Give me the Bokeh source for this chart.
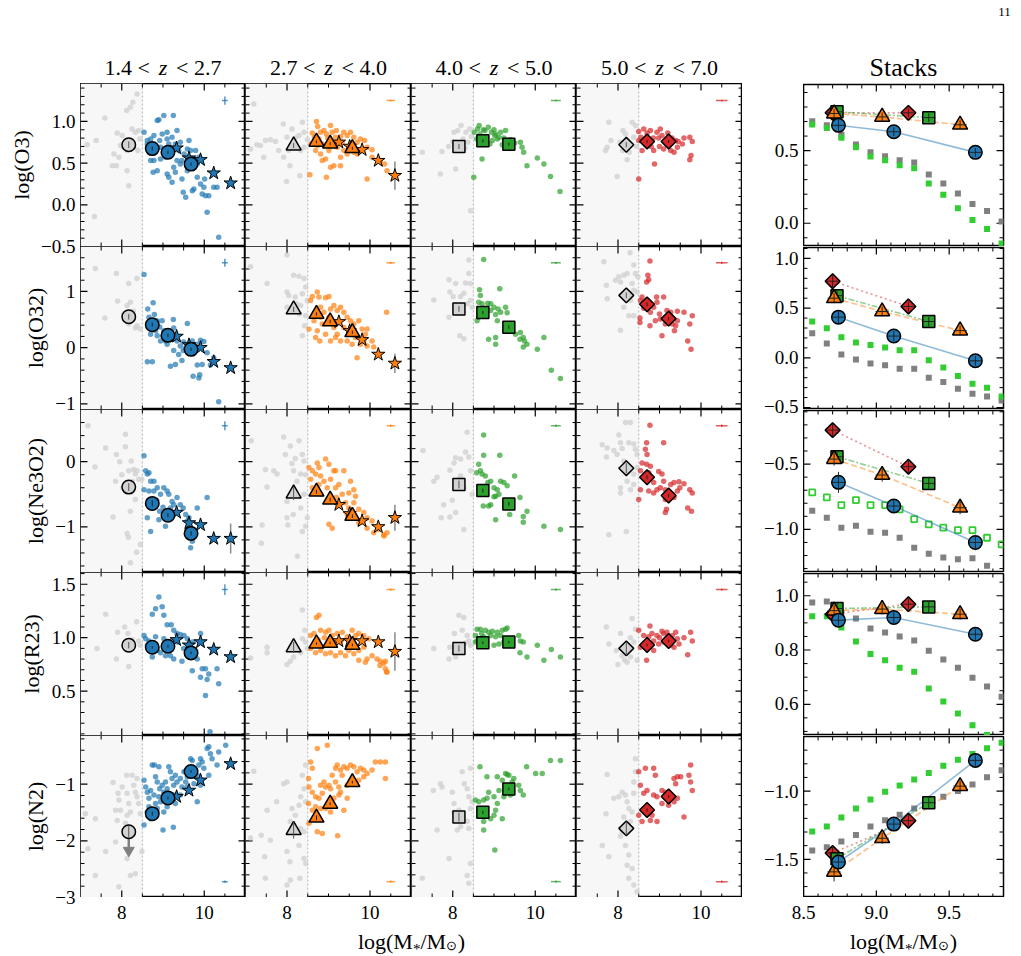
import numpy as np
from bokeh.embed import file_html
from bokeh.layouts import column, row
from bokeh.models import BoxAnnotation, Label, Range1d, Span
from bokeh.plotting import figure
from bokeh.resources import INLINE

SERIF = "Liberation Serif"
NAN = float("nan")

# ---------------------------------------------------------------- data
MASS_CUT = 8.5
BIN_LO = ["1.4", "2.7", "4.0", "5.0"]
BIN_HI = ["2.7", "4.0", "5.0", "7.0"]
RATIOS = ["O3", "O32", "Ne3O2", "R23", "N2"]
COLORS = ["#1f77b4", "#ff7f0e", "#2ca02c", "#d62728"]
LINE_DASH = ["solid", "6 3", "6 2 2 2", "2 3"]

# tick positions
MASS_TICKS = [8, 10]
STACK_MASS_TICKS = [8.5, 9.0, 9.5]
RATIO_TICKS = [[-0.5, 0.0, 0.5, 1.0], [-1, 0, 1], [-1, 0], [0.5, 1.0, 1.5], [-3, -2, -1]]
STACK_RATIO_TICKS = [[0.0, 0.5], [-0.5, 0.0, 0.5, 1.0], [-1.0, -0.5], [0.6, 0.8, 1.0], [-1.5, -1.0]]

# individual galaxies above the mass cut: (log M*, log ratio)
gal_z1_o3 = [(8.54,0.87),(8.62,0.77),(8.66,0.65),(8.70,0.79),(8.78,0.83),(8.86,1.01),(8.90,1.02),(8.92,0.77),(8.94,0.69),(8.98,0.85),(9.02,1.07),(9.06,0.57),(9.10,0.79),(9.14,0.73),(9.18,0.65),(9.22,0.81),(9.25,1.07),(9.26,0.45),(9.30,0.73),(9.34,0.89),(9.38,0.65),(9.42,0.75),(9.46,0.53),(9.49,0.15),(9.51,0.61),(9.55,0.09),(9.59,0.67),(9.63,0.77),(9.67,0.65),(9.71,0.17),(9.75,0.19),(9.79,0.65),(9.83,0.49),(9.87,0.57),(9.91,0.25),(9.95,0.13),(9.99,0.21),(10.03,0.11),(10.07,-0.09),(10.11,0.11),(10.23,0.21),(10.31,0.21),(10.35,-0.39),(8.76,0.39),(8.86,0.41),(9.10,0.37),(9.14,0.33),(9.22,0.27),(8.78,0.53),(8.94,0.55),(9.30,0.39),(9.63,0.47),(9.83,0.33),(9.34,0.53),(8.70,0.53),(8.78,0.69),(9.02,0.65),(9.10,0.87),(9.42,0.49),(9.59,0.41),(9.75,0.45),(10.01,0.31),(9.46,0.31),(8.62,0.73)]
gal_z2_o3 = [(8.71,1.00),(8.61,0.86),(8.66,0.81),(8.81,0.87),(8.89,0.89),(8.77,0.79),(8.85,0.73),(8.95,0.85),(8.98,0.80),(9.09,0.87),(9.19,0.89),(9.29,0.82),(9.37,0.87),(9.45,0.83),(9.53,0.87),(9.61,0.81),(9.69,0.75),(9.77,0.79),(9.87,0.77),(9.93,0.69),(10.05,0.66),(10.25,0.53),(10.35,0.49),(10.41,0.41),(8.69,0.65),(8.85,0.53),(8.93,0.55),(9.05,0.45),(9.13,0.47),(9.29,0.47),(9.37,0.65),(9.45,0.61),(9.61,0.63),(9.76,0.65),(8.55,0.36),(8.95,0.33),(9.93,0.31),(8.73,0.71),(9.01,0.65),(9.21,0.69),(9.33,0.75),(9.49,0.69),(8.81,0.61),(8.58,0.73),(9.29,0.57),(9.69,0.61),(10.05,0.57),(9.17,0.81),(9.05,0.95),(8.74,0.94)]
gal_z3_o3 = [(8.52,0.87),(8.60,0.91),(8.66,0.85),(8.78,0.89),(8.94,0.87),(9.02,0.83),(8.71,0.55),(8.51,0.33),(8.68,0.73),(8.90,0.73),(9.00,0.90),(9.16,0.87),(9.28,0.89),(9.32,0.77),(9.08,0.79),(9.20,0.72),(9.64,0.75),(9.68,0.69),(9.72,0.63),(9.80,0.47),(10.05,0.56),(10.21,0.49),(10.37,0.34),(10.60,0.16),(9.12,0.81),(9.04,0.85),(8.96,0.77),(8.82,0.81),(8.58,0.79),(8.86,0.93),(9.24,0.80),(9.50,0.74),(9.40,0.78),(8.74,0.90),(8.64,0.95)]
gal_z4_o3 = [(8.50,0.88),(8.50,0.31),(8.62,0.91),(8.78,0.89),(8.94,0.87),(9.02,0.91),(9.06,0.83),(8.58,0.65),(8.86,0.65),(8.88,0.49),(9.10,0.67),(9.27,0.65),(9.35,0.63),(9.39,0.77),(9.43,0.69),(9.59,0.80),(9.73,0.81),(9.79,0.76),(9.76,0.59),(9.73,0.54),(8.50,0.77),(8.66,0.73),(9.14,0.75),(8.55,0.81),(8.70,0.86),(8.98,0.80),(9.20,0.86),(8.80,0.70),(9.00,0.70),(9.30,0.80),(8.85,0.80),(9.45,0.76),(9.55,0.73)]

gal_z1_o32 = [(8.54,1.30),(8.76,0.80),(8.63,0.69),(8.66,0.54),(8.79,0.59),(8.86,0.48),(8.92,0.37),(9.02,0.30),(9.06,0.12),(9.14,0.18),(9.25,0.50),(9.26,0.35),(9.34,0.12),(9.42,0.03),(9.49,-0.05),(9.55,0.00),(9.59,0.43),(9.71,0.12),(9.83,0.06),(9.91,0.13),(9.99,0.11),(10.07,-0.09),(9.83,-0.31),(9.95,-0.30),(9.73,-0.51),(9.87,-0.54),(9.89,-0.48),(8.62,-0.25),(8.74,-0.25),(9.18,-0.33),(9.30,-0.30),(9.46,-0.23),(8.86,0.21),(8.94,0.12),(9.10,0.06),(9.38,-0.12),(10.35,-0.96),(9.26,-0.05),(8.82,0.30),(8.70,0.24),(8.98,0.48),(10.23,-0.18),(10.15,-0.31),(9.00,0.20),(9.20,0.25),(9.50,0.10)]
gal_z2_o32 = [(8.57,0.84),(8.61,0.91),(8.73,0.99),(8.77,0.90),(8.93,0.89),(9.01,0.91),(8.53,0.33),(8.65,0.48),(8.81,0.72),(8.89,0.63),(9.05,0.69),(9.13,0.75),(9.21,0.66),(9.29,0.72),(9.37,0.63),(9.45,0.54),(9.53,0.48),(9.61,0.42),(9.73,0.48),(9.81,0.33),(9.93,0.33),(9.89,0.24),(9.65,0.18),(9.77,0.06),(9.93,0.03),(10.05,0.12),(10.09,0.01),(10.40,0.63),(9.69,-0.18),(8.69,0.18),(8.79,0.12),(8.93,0.24),(9.05,0.12),(9.17,0.18),(9.29,0.12),(9.45,0.12),(9.49,0.27),(8.73,0.30),(8.85,0.42),(9.13,0.36),(9.21,0.24),(8.69,0.63),(8.81,0.54),(9.01,0.54),(9.37,0.36),(9.57,0.06),(9.85,0.12)]
gal_z3_o32 = [(8.75,1.57),(8.65,1.03),(9.14,1.05),(8.67,0.93),(8.63,0.81),(8.71,0.78),(8.85,0.79),(8.92,0.78),(9.00,0.72),(9.10,0.69),(9.16,0.63),(9.28,0.72),(9.32,0.62),(9.04,0.59),(9.08,0.48),(8.59,0.48),(8.63,0.54),(8.87,0.15),(9.04,0.18),(9.04,0.06),(9.52,0.24),(9.64,0.27),(9.71,0.18),(9.63,0.15),(9.74,0.12),(9.80,0.06),(9.71,0.01),(10.05,-0.03),(10.21,0.18),(10.39,-0.40),(10.61,-0.55),(8.79,0.57),(8.92,0.66)]
gal_z4_o32 = [(8.77,1.54),(8.72,1.29),(8.69,1.17),(8.74,1.21),(8.54,0.84),(8.58,0.90),(8.93,0.90),(9.10,0.90),(8.94,0.81),(8.86,0.72),(8.78,0.63),(8.53,0.53),(8.53,0.45),(8.77,0.39),(8.90,0.48),(9.02,0.51),(9.06,0.21),(9.18,0.66),(9.27,0.63),(9.43,0.65),(9.59,0.63),(9.79,0.57),(9.73,0.42),(9.68,0.12),(9.76,-0.03),(9.39,0.39),(9.36,0.30),(9.43,0.48),(9.31,0.42),(9.14,0.42),(8.62,0.70),(9.00,0.60)]

gal_z1_ne3o2 = [(8.54,0.09),(8.58,-0.14),(8.62,-0.19),(8.66,-0.17),(8.70,-0.30),(8.78,-0.30),(8.86,-0.40),(8.54,-0.43),(8.66,-0.45),(8.78,-0.45),(8.94,-0.50),(9.02,-0.40),(9.10,-0.45),(9.14,-0.50),(9.22,-0.61),(9.26,-0.66),(9.34,-0.55),(9.42,-0.66),(9.49,-0.71),(9.55,-0.81),(9.63,-0.86),(9.83,-0.71),(10.07,-0.55),(8.70,-0.61),(8.62,-0.86),(8.70,-1.07),(8.90,-0.89),(9.06,-0.99),(9.18,-0.71),(9.30,-0.78),(9.67,-1.32),(9.59,-1.02),(9.71,-1.22),(8.92,-0.76),(9.59,-0.91),(8.85,-0.60),(9.00,-0.70)]
gal_z2_ne3o2 = [(8.53,-0.09),(8.61,-0.14),(8.73,-0.02),(8.77,-0.09),(8.93,0.04),(9.01,-0.04),(9.13,-0.14),(9.17,-0.14),(8.57,-0.27),(8.69,-0.19),(8.81,-0.22),(8.89,-0.30),(9.05,-0.27),(9.25,-0.35),(8.61,-0.40),(8.77,-0.35),(8.97,-0.40),(9.17,-0.40),(9.33,-0.50),(9.49,-0.48),(9.61,-0.43),(9.41,-0.63),(9.49,-0.71),(9.61,-0.63),(9.73,-0.73),(9.85,-0.78),(9.93,-0.86),(9.45,-0.81),(9.61,-0.86),(9.73,-0.94),(9.93,-1.02),(10.09,-1.09),(10.21,-1.04),(10.33,-1.12),(10.34,-1.14),(10.41,-1.09),(9.01,-0.96),(9.09,-1.02),(9.53,-0.30),(9.65,-0.53),(10.05,-0.91),(9.19,-0.55),(8.81,-0.50),(9.37,-0.14)]
gal_z3_ne3o2 = [(8.75,0.41),(8.75,0.10),(9.14,0.10),(8.63,-0.04),(8.67,-0.14),(8.58,-0.17),(8.71,-0.19),(8.79,-0.22),(8.85,-0.32),(8.92,-0.30),(9.00,-0.40),(9.08,-0.43),(9.16,-0.30),(9.24,-0.32),(9.32,-0.37),(9.50,-0.22),(9.04,-0.53),(9.00,-0.54),(8.74,-0.68),(8.87,-0.68),(8.92,-0.66),(9.04,-0.89),(9.38,-0.81),(9.63,-0.55),(9.71,-0.84),(9.80,-0.76),(9.71,-0.93),(10.21,-0.99),(10.61,-1.04),(9.12,-0.50),(8.80,-0.40)]
gal_z4_ne3o2 = [(8.77,0.56),(8.69,0.29),(9.10,0.29),(8.66,0.19),(8.70,0.11),(8.58,-0.02),(8.69,-0.04),(8.78,-0.07),(8.54,-0.14),(8.66,-0.19),(8.74,-0.17),(8.98,-0.15),(9.06,-0.19),(9.10,-0.30),(8.86,-0.32),(8.94,-0.43),(8.54,-0.43),(8.74,-0.45),(8.86,-0.48),(9.02,-0.40),(9.14,-0.43),(9.27,-0.35),(9.35,-0.32),(9.47,-0.31),(9.59,-0.34),(9.43,-0.45),(9.31,-0.50),(9.14,-0.58),(9.14,-0.78),(9.17,-0.73),(9.68,-0.71),(9.77,-0.76),(9.73,-0.43),(9.79,-0.48),(8.50,-0.58),(9.35,-0.55),(9.49,-0.40)]

gal_z1_r23 = [(8.54,1.02),(8.58,0.99),(8.66,0.97),(8.74,1.22),(8.90,1.38),(8.82,1.27),(8.98,1.29),(9.02,1.21),(9.10,1.12),(9.20,1.12),(9.26,1.07),(9.34,1.04),(9.42,1.03),(9.51,1.02),(9.59,0.99),(9.71,0.96),(9.91,1.04),(8.74,0.82),(8.86,0.88),(8.94,0.86),(9.06,0.83),(9.18,0.83),(9.26,0.80),(9.46,0.78),(9.71,0.69),(9.91,0.63),(9.95,0.71),(10.03,0.71),(10.07,0.61),(10.11,0.66),(10.31,0.71),(10.35,0.57),(10.03,0.46),(10.14,0.12),(9.75,0.86),(9.83,0.80),(8.62,0.93),(8.82,1.01),(9.02,0.99),(9.34,0.96),(9.50,0.90),(9.20,0.95)]
gal_z2_r23 = [(8.71,1.19),(8.77,1.21),(8.57,1.02),(8.65,1.04),(8.81,1.07),(8.93,1.05),(9.01,1.07),(9.09,1.02),(9.21,1.04),(9.33,1.05),(9.45,1.01),(9.57,1.07),(9.65,1.02),(9.73,1.04),(9.85,1.02),(9.97,0.99),(8.57,0.90),(8.69,0.86),(8.81,0.88),(8.93,0.85),(9.05,0.86),(9.17,0.83),(9.29,0.86),(9.41,0.83),(9.49,0.88),(9.61,0.85),(9.73,0.88),(9.85,0.91),(9.93,0.80),(10.05,0.83),(10.17,0.80),(10.25,0.78),(10.33,0.76),(10.37,0.71),(10.41,0.68),(10.24,0.74),(9.89,0.77),(9.73,0.79),(10.40,0.68),(10.37,0.78),(8.75,0.98),(9.00,0.95),(9.30,0.97),(8.90,1.00)]
gal_z3_r23 = [(8.59,1.08),(8.67,1.08),(8.79,1.07),(8.87,1.05),(8.96,1.06),(9.08,1.05),(9.20,1.07),(9.28,1.08),(9.32,1.09),(8.55,1.02),(8.59,0.97),(8.75,1.01),(8.92,1.02),(9.04,1.01),(9.16,1.02),(9.12,0.94),(9.24,0.96),(8.55,0.96),(9.60,1.02),(9.64,0.97),(9.71,0.96),(9.63,0.86),(9.80,0.82),(10.05,0.93),(10.21,0.79),(10.39,0.89),(10.61,0.82),(9.00,0.93),(8.70,1.04)]
gal_z4_r23 = [(8.77,1.11),(8.50,1.07),(8.62,1.02),(8.74,1.01),(8.82,1.04),(8.94,1.02),(9.06,1.06),(9.10,1.04),(9.18,1.05),(9.31,1.02),(9.39,1.05),(9.43,0.99),(9.59,1.00),(9.75,1.05),(9.79,0.97),(9.68,0.84),(8.69,0.79),(8.86,0.88),(8.54,0.91),(8.98,0.94),(9.10,0.96),(9.27,0.93),(9.35,0.91),(9.47,0.94),(8.86,0.97),(9.00,1.00),(9.20,1.00)]

gal_z1_n2 = [(8.54,-0.93),(8.58,-1.05),(8.62,-1.14),(8.66,-1.25),(8.70,-1.11),(8.74,-0.66),(8.79,-0.66),(8.90,-0.69),(8.82,-0.87),(8.86,-0.96),(8.92,-1.08),(8.98,-1.02),(9.02,-1.14),(9.06,-0.96),(9.10,-1.08),(9.14,-0.69),(9.18,-0.78),(9.22,-0.90),(9.26,-1.02),(9.30,-0.84),(9.34,-0.96),(9.42,-0.90),(9.46,-1.05),(9.51,-0.78),(9.55,-0.96),(9.59,-0.87),(9.67,-0.55),(9.71,-0.58),(9.83,-0.84),(9.87,-0.66),(9.91,-0.55),(9.95,-0.61),(9.99,-0.72),(10.07,-0.37),(10.11,-0.34),(10.15,-0.46),(10.19,-0.55),(10.31,-0.66),(10.35,-0.43),(10.52,-0.31),(8.62,-1.49),(8.70,-1.61),(8.78,-1.58),(8.86,-1.43),(8.94,-1.31),(9.02,-1.49),(9.00,-1.81),(9.25,-1.76),(9.83,-1.31),(8.54,-1.72),(8.66,-1.40),(8.82,-1.34),(9.10,-1.40),(9.30,-1.34),(9.42,-1.19),(8.78,-1.19),(8.90,-1.22),(9.26,-1.19),(9.59,-1.05),(9.75,-0.99),(9.91,-1.02),(10.11,-0.84)]
gal_z2_n2 = [(8.73,-0.37),(8.97,-0.31),(8.57,-0.61),(8.61,-0.72),(8.52,-0.90),(8.53,-1.05),(8.61,-1.14),(8.69,-1.22),(8.77,-1.25),(8.85,-1.16),(8.89,-0.96),(8.93,-1.05),(9.01,-1.02),(9.05,-1.08),(9.09,-0.84),(9.17,-0.72),(9.21,-0.66),(9.29,-0.75),(9.33,-0.84),(9.37,-0.69),(9.45,-0.72),(9.53,-0.66),(9.61,-0.69),(9.69,-0.78),(9.77,-0.72),(9.85,-0.75),(9.93,-0.81),(10.05,-0.75),(10.13,-0.61),(10.25,-0.61),(10.37,-0.61),(10.37,-0.90),(8.52,-1.34),(8.61,-1.46),(8.69,-1.40),(8.81,-1.43),(8.93,-1.43),(9.05,-1.49),(9.13,-1.25),(9.25,-1.19),(9.29,-1.14),(9.37,-1.46),(9.45,-1.25),(8.73,-1.84),(8.85,-1.87),(9.22,-1.91),(8.53,-1.69),(9.17,-0.96),(9.25,-1.05),(9.61,-0.99),(9.73,-0.93),(9.85,-0.87),(9.45,-1.02),(8.81,-1.02)]
gal_z3_n2 = [(8.66,-0.69),(8.83,-0.87),(9.08,-0.87),(9.20,-0.93),(9.28,-0.81),(9.32,-0.83),(9.36,-0.84),(9.44,-0.96),(9.48,-0.90),(9.40,-1.05),(9.60,-1.02),(9.64,-1.11),(9.71,-1.19),(9.79,-0.69),(10.01,-0.81),(10.17,-0.81),(10.37,-0.58),(10.61,-0.58),(8.55,-1.28),(8.63,-1.31),(8.75,-1.28),(8.87,-1.14),(9.00,-1.22),(9.08,-1.34),(8.67,-1.43),(9.04,-1.46),(8.75,-1.66),(8.92,-1.61),(9.20,-1.61),(8.75,-1.81),(9.02,-2.16),(9.00,-1.55),(9.24,-1.22),(9.40,-1.19),(8.83,-1.25),(9.12,-1.11)]
gal_z4_n2 = [(8.50,-0.78),(8.66,-0.72),(8.86,-0.72),(8.90,-0.84),(8.54,-1.02),(8.62,-1.16),(8.70,-1.11),(8.86,-1.19),(8.94,-1.22),(9.06,-1.11),(9.14,-1.14),(9.35,-0.90),(9.39,-0.99),(9.43,-0.87),(9.51,-0.87),(9.71,-0.84),(9.75,-0.96),(9.79,-1.11),(9.75,-0.66),(9.22,-1.37),(9.35,-1.31),(9.59,-1.58),(8.50,-1.55),(8.58,-1.66),(8.78,-1.64),(8.94,-1.66),(8.66,-1.43),(8.82,-1.55),(9.06,-1.34),(9.43,-1.25)]

# individual galaxies below the mass cut
low_z1_o3 = [(7.16,0.72),(7.38,0.77),(7.59,1.04),(7.89,0.86),(7.77,0.47),(7.87,0.47),(7.97,0.71),(8.12,1.13),(8.13,0.65),(8.21,1.17),(8.25,0.91),(8.27,1.23),(8.33,0.87),(8.37,1.33),(8.41,0.89),(8.44,0.79),(8.13,0.41),(8.17,0.23),(8.05,0.69),(8.01,0.83),(8.29,0.69),(8.39,0.65),(7.34,-0.14),(7.81,0.61),(7.93,0.57)]
low_z2_o3 = [(7.20,1.21),(7.12,0.67),(7.27,0.72),(7.36,0.71),(7.48,0.77),(7.60,0.78),(7.72,0.76),(7.80,0.65),(7.91,0.97),(8.00,0.81),(8.04,0.65),(8.07,0.47),(7.92,0.57),(8.12,0.91),(8.20,0.80),(8.29,0.83),(8.31,0.35),(8.37,0.99),(8.41,0.87),(8.41,0.69),(8.49,0.78),(7.99,0.28),(7.44,0.57),(8.33,0.65),(8.24,0.69)]
low_z3_o3 = [(7.26,0.63),(7.74,0.64),(8.03,0.87),(8.07,0.43),(7.70,0.37),(8.12,0.89),(8.20,0.95),(8.32,0.87),(8.43,-0.07),(8.25,0.79),(8.37,0.75),(8.41,0.91),(7.90,0.70),(8.30,0.68),(8.45,0.82),(8.00,0.76)]
low_z4_o3 = [(7.78,0.99),(7.74,0.69),(7.70,0.65),(7.83,0.77),(7.98,0.34),(8.12,0.89),(8.18,0.85),(8.22,0.54),(8.34,0.99),(8.38,0.81),(8.42,0.95),(8.30,0.71),(8.11,0.65),(8.27,0.63),(8.05,0.75),(8.45,0.70)]

low_z1_o32 = [(7.36,1.41),(7.87,1.32),(8.17,1.14),(8.37,1.23),(7.90,0.83),(8.13,0.75),(8.21,0.81),(7.59,0.53),(8.33,0.35),(8.45,0.33),(8.37,0.39),(8.17,0.42),(8.05,0.60),(8.28,0.65)]
low_z2_o32 = [(7.12,1.44),(7.52,1.14),(8.00,0.99),(8.04,0.93),(8.16,1.29),(8.29,1.27),(8.41,1.23),(8.37,0.96),(8.45,1.08),(8.49,0.84),(8.45,0.57),(8.37,0.21),(8.42,0.39),(8.33,0.75),(8.23,0.78),(8.00,0.72),(8.00,1.65),(8.20,0.90),(8.30,0.60)]
low_z3_o32 = [(7.54,0.85),(7.91,1.21),(8.07,1.14),(7.93,0.99),(8.01,0.91),(8.19,0.91),(8.31,1.15),(8.27,0.97),(8.39,1.32),(8.39,1.56),(8.43,1.14),(8.47,0.72),(7.91,0.54),(8.17,0.21),(8.27,0.16),(8.43,0.84),(8.35,0.78),(8.10,0.75)]
low_z4_o32 = [(7.66,1.53),(7.72,1.11),(7.74,0.87),(7.94,1.20),(8.02,1.26),(8.06,1.17),(8.14,1.29),(8.22,1.32),(8.29,1.69),(8.38,1.47),(8.42,1.32),(8.48,1.26),(8.34,1.14),(8.38,1.02),(8.46,0.99),(8.14,0.72),(8.26,0.57),(8.38,0.57),(8.06,0.31),(8.30,0.84)]

low_z1_ne3o2 = [(7.18,0.55),(7.35,-0.08),(7.61,0.21),(7.87,0.11),(7.95,0.00),(8.09,0.42),(8.09,0.23),(8.17,-0.14),(8.23,0.01),(8.29,-0.12),(8.33,-0.19),(8.37,-0.14),(8.41,-0.27),(8.49,-0.27),(7.79,-0.85),(8.13,-1.10),(8.16,-1.16),(8.21,-0.76),(8.33,-0.58),(8.36,-1.39),(8.21,-1.55),(8.45,-1.27),(8.03,-0.40),(7.85,-0.30),(8.00,-0.20),(8.25,-0.30)]
low_z2_ne3o2 = [(7.14,0.32),(7.48,-0.12),(7.52,-0.39),(7.40,-0.97),(7.38,-1.25),(7.68,-0.14),(7.76,-0.19),(7.92,0.38),(7.96,0.11),(8.08,0.24),(8.12,-0.03),(8.16,-0.14),(8.29,0.32),(8.37,0.11),(8.41,0.01),(8.33,-0.19),(8.24,-0.30),(8.41,-0.50),(8.33,-0.71),(8.00,-0.86),(8.02,-0.97),(8.15,-0.81),(8.25,-1.45),(8.45,-0.99),(8.37,-1.07),(8.49,-0.86),(8.00,-0.61),(8.45,-0.20),(8.20,0.05)]
low_z3_ne3o2 = [(7.28,0.17),(7.54,-0.30),(7.62,-0.24),(7.78,-0.66),(7.72,-0.86),(7.93,-0.85),(8.07,-0.78),(7.99,-0.59),(7.93,-0.13),(8.03,-0.02),(8.07,0.06),(8.19,0.04),(8.31,0.15),(8.35,0.45),(8.39,0.07),(8.43,-0.14),(8.19,-0.22),(8.27,-0.40),(8.47,-0.50),(8.27,-1.04),(8.15,-0.27)]
low_z4_ne3o2 = [(7.62,0.26),(7.74,0.21),(7.72,0.07),(7.90,0.17),(8.02,0.41),(7.98,0.11),(8.06,0.29),(8.18,0.60),(8.30,0.60),(8.26,0.29),(8.38,0.27),(8.42,0.19),(8.46,0.11),(8.14,0.01),(8.30,-0.09),(8.38,-0.19),(8.22,-0.30),(8.06,-0.40),(8.06,-0.48),(8.30,-0.43),(8.38,-0.35),(7.78,-1.12),(8.20,-1.07),(8.46,-0.09),(8.10,0.20)]

low_z1_r23 = [(7.40,0.90),(7.61,1.22),(7.87,0.80),(7.90,1.05),(8.07,1.10),(8.15,1.04),(8.17,0.73),(8.36,1.15),(8.41,0.97),(8.45,0.93),(8.25,0.98)]
low_z2_r23 = [(7.12,0.81),(7.52,0.91),(7.52,0.86),(8.00,0.75),(8.08,0.78),(8.16,0.82),(8.37,1.26),(8.37,0.99),(8.45,0.96),(8.23,0.90),(8.33,0.86),(8.43,1.07),(8.49,0.90)]
low_z3_r23 = [(7.54,0.90),(7.91,0.80),(7.93,0.91),(8.04,1.04),(8.15,1.21),(8.27,1.19),(8.23,1.07),(8.35,1.02),(8.39,0.97),(8.43,0.93),(8.07,0.82),(8.03,0.86),(8.30,0.95)]
low_z4_r23 = [(7.72,1.10),(7.78,0.94),(7.96,0.88),(8.00,0.75),(8.06,1.04),(8.10,0.83),(8.16,0.79),(8.30,0.82),(8.38,0.96),(8.34,1.18),(8.42,1.08),(8.46,0.79),(8.22,0.77),(8.20,0.90),(8.30,1.00)]

low_z1_n2 = [(7.12,-1.52),(7.18,-2.14),(7.36,-1.61),(7.36,-2.61),(7.61,-2.19),(7.79,-0.97),(7.85,-2.02),(7.89,-1.64),(7.91,-1.16),(7.93,-1.28),(7.97,-1.46),(8.01,-1.05),(8.12,-0.84),(8.13,-1.16),(8.17,-1.34),(8.21,-1.49),(8.25,-0.84),(8.29,-1.02),(8.33,-1.14),(8.37,-1.22),(8.41,-1.34),(8.45,-1.52),(8.13,-1.55),(8.17,-2.19),(8.13,-2.31),(8.21,-2.61),(8.33,-2.58),(7.93,-2.81),(8.09,-1.69),(8.37,-0.90),(8.49,-2.19),(7.85,-1.46)]
low_z2_n2 = [(7.20,-0.77),(7.12,-1.95),(7.38,-1.90),(7.46,-2.28),(7.60,-1.99),(7.75,-1.31),(7.52,-1.46),(7.92,-0.99),(8.00,-0.96),(8.12,-1.43),(8.20,-1.55),(8.08,-1.66),(8.33,-1.22),(8.37,-0.84),(8.41,-1.08),(8.45,-1.31),(8.29,-1.37),(8.33,-1.78),(8.41,-1.84),(8.29,-2.08),(8.00,-2.19),(8.07,-2.37),(8.41,-2.31),(8.45,-2.40),(8.31,-2.66),(8.08,-2.69),(8.00,-2.78),(7.48,-2.66),(8.45,-0.66)]
low_z3_n2 = [(7.26,-2.66),(7.53,-1.11),(7.62,-1.81),(7.70,-0.99),(7.74,-1.05),(7.91,-2.31),(7.99,-1.14),(8.03,-1.34),(8.15,-1.46),(8.19,-1.52),(8.23,-0.78),(8.28,-0.99),(8.35,-1.08),(8.39,-1.22),(8.43,-0.72),(8.43,-1.43),(8.11,-1.81),(8.19,-1.75),(8.35,-1.66),(8.39,-1.78),(8.43,-2.40),(8.35,-2.61),(8.39,-2.75),(8.03,-1.49),(8.47,-1.31)]
low_z4_n2 = [(7.74,-0.83),(7.62,-2.08),(7.78,-2.28),(7.71,-1.52),(7.90,-1.25),(8.02,-1.22),(8.10,-1.14),(8.18,-1.19),(8.22,-1.31),(8.26,-1.43),(8.34,-1.49),(8.42,-0.55),(8.38,-0.96),(8.38,-1.16),(8.30,-1.66),(8.06,-1.92),(8.18,-2.08),(8.26,-2.25),(8.22,-2.43),(8.34,-2.49),(8.26,-2.66),(8.38,-2.78),(8.46,-2.90),(8.10,-1.84),(8.14,-1.58),(8.42,-0.78)]

# stacked spectra above the mass cut, one list per redshift bin
stack_mass = [[8.74, 9.12, 9.68], [8.71, 9.04, 9.575], [8.73, 9.36], [8.70, 9.22]]
stack_o3 = [[0.674, 0.630, 0.488], [0.755, 0.732, 0.678], [0.767, 0.727], [0.760, 0.760]]
stack_o32 = [[0.409, 0.219, -0.030], [0.600, 0.466, 0.274], [0.625, 0.365], [0.771, 0.517]]
stack_ne3o2 = [[-0.640, -0.821, -1.100], [-0.462, -0.584, -0.834], [-0.444, -0.648], [-0.240, -0.520]]
stack_r23 = [[0.910, 0.920, 0.858], [0.945, 0.951, 0.932], [0.953, 0.959], [0.932, 0.969]]
stack_n2 = [[-1.520, -1.242, -0.775], [-1.592, -1.346, -0.964], [-1.496, -1.085], [-1.454, -1.217]]
stack_mass_err = [[0.045, 0.045, 0.045], [0.045, 0.045, 0.045], [0.045, 0.045], [0.045, 0.045]]
stack_err_o3 = [[0.04, 0.03, 0.03], [0.03, 0.03, 0.03], [0.03, 0.03], [0.03, 0.03]]
stack_err_o32 = [[0.06, 0.05, 0.05], [0.05, 0.05, 0.05], [0.05, 0.05], [0.06, 0.05]]
stack_err_ne3o2 = [[0.08, 0.05, 0.06], [0.05, 0.05, 0.05], [0.05, 0.05], [0.05, 0.05]]
stack_err_r23 = [[0.02, 0.02, 0.02], [0.02, 0.02, 0.02], [0.02, 0.02], [0.02, 0.02]]
stack_err_n2 = [[0.06, 0.04, 0.04], [0.07, 0.04, 0.04], [0.05, 0.04], [0.05, 0.04]]

# stacks below the mass cut (first N2 value is an upper limit)
low_mass = [8.17, 8.16, 8.15, 8.20]
low_o3 = [0.72, 0.71, 0.70, 0.72]
low_o32 = [0.55, 0.68, 0.69, 0.93]
low_ne3o2 = [-0.39, -0.49, -0.35, -0.10]
low_r23 = [0.93, 0.91, 0.90, 0.90]
low_n2 = [-1.84, -1.81, -1.58, -1.78]
low_err_o3 = [0.04, 0.03, 0.03, 0.03]
low_err_o32 = [0.05, 0.05, 0.05, 0.05]
low_err_ne3o2 = [0.06, 0.10, 0.06, 0.08]
low_err_r23 = [0.03, 0.05, 0.03, 0.06]
low_err_n2 = [0.10, 0.15, 0.08, 0.12]
UPPER_LIMIT_N2 = [True, False, False, False]

# literature stacks at z~2.3 and z~3.3
lit_mass = [[9.33, 9.63, 9.91, 10.23, 10.64], [9.25, 9.51, 9.81, 10.20, 10.60]]
lit_o3 = [[0.68, 0.56, 0.54, 0.38, 0.26], [0.75, 0.70, 0.66, 0.53, 0.35]]
lit_o32 = [[0.20, 0.05, 0.00, -0.25, -0.36], [0.46, 0.30, 0.14, -0.12, -0.28]]
lit_ne3o2 = [[-0.78, -0.94, -0.97, -1.18, -1.18], [-0.66, -0.80, -0.91, -1.00, -0.86]]
lit_r23 = [[0.98, 0.93, 0.96, 0.89, 0.82], [0.97, 0.97, 0.97, 0.96, 0.87]]
lit_n2 = [[-1.22, -1.11, -0.93, NAN, -0.64], [NAN, NAN, NAN, NAN, NAN]]
lit_err_o3 = [[0.0, 0.0, 0.0, 0.0, 0.0], [0.0, 0.0, 0.0, 0.0, 0.17]]
lit_err_o32 = [[0.0, 0.0, 0.0, 0.0, 0.0], [0.0, 0.0, 0.0, 0.0, 0.17]]
lit_err_ne3o2 = [[0.0, 0.0, 0.0, 0.0, 0.23], [0.0, 0.0, 0.0, 0.0, 0.20]]
lit_err_r23 = [[0.0, 0.0, 0.0, 0.0, 0.0], [0.0, 0.0, 0.0, 0.0, 0.18]]
lit_err_n2 = [[0.0, 0.0, 0.0, 0.0, 0.0], [0.0, 0.0, 0.0, 0.0, 0.0]]

# typical individual uncertainty, drawn as a cross in each panel
typ_err_at_mass = 10.5
typ_err_at_value = [1.25, 1.51, 0.55, 1.45, -2.72]
typ_err_mass = [0.07, 0.10, 0.12, 0.14]
typ_err_value = [[0.05, 0.01, 0.01, 0.01], [0.07, 0.02, 0.02, 0.02], [0.07, 0.02, 0.02, 0.02],
                 [0.05, 0.01, 0.01, 0.01], [0.02, 0.02, 0.02, 0.02]]

# reference relations (gray: local sample, green: model); green is open in Ne3O2
ref_mass = [8.56, 8.66, 8.76, 8.86, 8.96, 9.06, 9.16, 9.26, 9.36, 9.46, 9.56, 9.66, 9.76, 9.86]
ref_gray_o3 = [0.702, 0.674, 0.609, 0.542, 0.488, 0.462, 0.434, 0.418, 0.335, 0.274, 0.204, 0.132, 0.085, 0.012]
ref_green_o3 = [0.679, 0.656, 0.588, 0.523, 0.460, 0.434, 0.400, 0.379, 0.274, 0.197, 0.104, 0.023, -0.040, -0.140]
ref_gray_o32 = [0.246, 0.145, 0.033, -0.017, -0.058, -0.075, -0.109, -0.109, -0.200, -0.243, -0.311, -0.362, -0.389, -0.430]
ref_green_o32 = [0.365, 0.297, 0.206, 0.155, 0.128, 0.104, 0.077, 0.077, -0.024, -0.098, -0.183, -0.261, -0.301, -0.389]
ref_gray_ne3o2 = [-0.857, -0.911, -0.987, -0.972, -1.018, -1.025, -1.064, -1.140, -1.186, -1.216, -1.229, -1.221, -1.278, -1.350]
ref_green_ne3o2 = [-0.717, -0.755, -0.814, -0.776, -0.814, -0.814, -0.847, -0.921, -0.962, -0.987, -1.005, -1.005, -1.064, -1.115]
ref_gray_r23 = [0.975, 0.979, 0.938, 0.916, 0.879, 0.865, 0.850, 0.835, 0.797, 0.765, 0.735, 0.698, 0.666, 0.628]
ref_green_r23 = [0.924, 0.924, 0.883, 0.831, 0.785, 0.762, 0.735, 0.720, 0.658, 0.610, 0.566, 0.523, 0.487, 0.455]
ref_gray_n2 = [-1.435, -1.411, -1.370, -1.322, -1.259, -1.213, -1.174, -1.128, -1.085, -1.041, -1.000, -0.952, -0.899, -0.848]
ref_green_n2 = [-1.297, -1.259, -1.193, -1.128, -1.061, -1.005, -0.959, -0.916, -0.867, -0.814, -0.771, -0.728, -0.686, -0.645]
REF_GREEN_OPEN = [False, False, True, False, False]

# ---------------------------------------------------------------- layout
MASS_RANGE = (7.0, 11.0)
STACK_MASS_RANGE = (8.5, 9.873)
RATIO_RANGE = [(-0.5, 1.455), (-1.1, 1.8), (-1.7, 0.8), (0.085, 1.61), (-3.0, -0.14)]
STACK_RATIO_RANGE = [(-0.16, 0.955), (-0.52, 1.11), (-1.33, -0.09), (0.485, 1.082), (-1.78, -0.60)]
RATIO_DIGITS = [1, 0, 0, 1, 0]
RATIO_MINOR = [0.1, 0.2, 0.2, 0.1, 0.2]
STACK_MINOR = [0.1, 0.1, 0.1, 0.05, 0.1]

PAGE_W, PAGE_H = 1021, 956
TOP_H = 83
LEFT_PAD = 80
COL_W = [165, 166, 165, 166]
ROW_H = [163, 163, 163, 163, 162]
STACK_PAD_L, STACK_W, STACK_PAD_R = 61, 200, 18
STACK_H = 161
GRID_H = sum(ROW_H)
BOTTOM_H = PAGE_H - TOP_H - GRID_H
SIDE_H = GRID_H + BOTTOM_H

TICK_PX = 19
TICK_FONT = f"{TICK_PX}px"
LABEL_FONT = "22px"
MAJOR_LEN, MINOR_LEN = 7, 4
LABEL_STANDOFF = 5
TITLE_STANDOFF = 9
# advance widths (em) of the serif face, used to place the rotated axis titles
ADVANCE = {"0": 0.5, "1": 0.5, "2": 0.5, "3": 0.5, "4": 0.5, "5": 0.5, "6": 0.5,
           "7": 0.5, "8": 0.5, "9": 0.5, ".": 0.25, "\u2212": 0.564}

gal = {
    (0, 0): gal_z1_o3, (0, 1): gal_z2_o3, (0, 2): gal_z3_o3, (0, 3): gal_z4_o3,
    (1, 0): gal_z1_o32, (1, 1): gal_z2_o32, (1, 2): gal_z3_o32, (1, 3): gal_z4_o32,
    (2, 0): gal_z1_ne3o2, (2, 1): gal_z2_ne3o2, (2, 2): gal_z3_ne3o2, (2, 3): gal_z4_ne3o2,
    (3, 0): gal_z1_r23, (3, 1): gal_z2_r23, (3, 2): gal_z3_r23, (3, 3): gal_z4_r23,
    (4, 0): gal_z1_n2, (4, 1): gal_z2_n2, (4, 2): gal_z3_n2, (4, 3): gal_z4_n2,
}
low = {
    (0, 0): low_z1_o3, (0, 1): low_z2_o3, (0, 2): low_z3_o3, (0, 3): low_z4_o3,
    (1, 0): low_z1_o32, (1, 1): low_z2_o32, (1, 2): low_z3_o32, (1, 3): low_z4_o32,
    (2, 0): low_z1_ne3o2, (2, 1): low_z2_ne3o2, (2, 2): low_z3_ne3o2, (2, 3): low_z4_ne3o2,
    (3, 0): low_z1_r23, (3, 1): low_z2_r23, (3, 2): low_z3_r23, (3, 3): low_z4_r23,
    (4, 0): low_z1_n2, (4, 1): low_z2_n2, (4, 2): low_z3_n2, (4, 3): low_z4_n2,
}
stack_val = [stack_o3, stack_o32, stack_ne3o2, stack_r23, stack_n2]
stack_err = [stack_err_o3, stack_err_o32, stack_err_ne3o2, stack_err_r23, stack_err_n2]
low_val = [low_o3, low_o32, low_ne3o2, low_r23, low_n2]
low_err = [low_err_o3, low_err_o32, low_err_ne3o2, low_err_r23, low_err_n2]
lit_val = [lit_o3, lit_o32, lit_ne3o2, lit_r23, lit_n2]
lit_err = [lit_err_o3, lit_err_o32, lit_err_ne3o2, lit_err_r23, lit_err_n2]
ref_gray = [ref_gray_o3, ref_gray_o32, ref_gray_ne3o2, ref_gray_r23, ref_gray_n2]
ref_green = [ref_green_o3, ref_green_o32, ref_green_ne3o2, ref_green_r23, ref_green_n2]


def split(pairs):
    a = np.array(pairs, dtype=float)
    return a[:, 0], a[:, 1]


def minor_ticks(lo, hi, step, majors):
    start = np.ceil(lo / step - 1e-6) * step
    vals = [round(v, 4) for v in np.arange(start, hi + 1e-9, step)]
    return [v for v in vals if lo < v < hi and all(abs(v - m) > 1e-6 for m in majors)]


def tick_text(v, digits):
    return f"{v:.{digits}f}".replace("-", "\u2212")


def draw_ticks(p, xr, yr, xt, xm, yt, ym):
    """Inward ticks on all four sides, fixed length in pixels."""
    for ticks, length, width in ((xt, MAJOR_LEN, 1.2), (xm, MINOR_LEN, 1.0)):
        n = len(ticks)
        if n:
            p.ray(x=list(ticks) * 2, y=[yr[0]] * n + [yr[1]] * n,
                  angle=[np.pi / 2] * n + [-np.pi / 2] * n, length=length,
                  length_units="screen", line_color="black", line_width=width)
    for ticks, length, width in ((yt, MAJOR_LEN, 1.2), (ym, MINOR_LEN, 1.0)):
        n = len(ticks)
        if n:
            p.ray(x=[xr[0]] * n + [xr[1]] * n, y=list(ticks) * 2,
                  angle=[0.0] * n + [np.pi] * n, length=length,
                  length_units="screen", line_color="black", line_width=width)


def base_figure(w, h, xr, yr, bt=0, br=0):
    p = figure(width=w, height=h, x_range=Range1d(*xr), y_range=Range1d(*yr),
               x_axis_type=None, y_axis_type=None, toolbar_location=None,
               output_backend="svg", min_border_left=0, min_border_right=br,
               min_border_top=bt, min_border_bottom=0)
    p.outline_line_color = "black"
    p.outline_line_width = 1.5
    p.background_fill_color = "white"
    p.border_fill_color = "white"
    return p


def text_strip(w, h):
    p = figure(width=w, height=h, x_range=Range1d(0, w), y_range=Range1d(0, h),
               x_axis_type=None, y_axis_type=None, toolbar_location=None,
               output_backend="svg", min_border=0)
    p.outline_line_color = None
    p.background_fill_color = "white"
    p.border_fill_color = "white"
    return p


def text(p, x, y, s, size, align="center", baseline="middle", style="normal", angle=0.0):
    p.add_layout(Label(x=x, y=y, text=s, text_align=align, text_baseline=baseline,
                       text_font=SERIF, text_font_size=size, text_font_style=style,
                       text_color="black", angle=angle))


MARKER_KIND = ["circle", "triangle", "square", "diamond"]


def big_marker(p, x, y, kind, fill):
    common = dict(fill_color=fill, line_color="black", line_width=1.5)
    if kind == "circle":
        p.scatter(x, y, marker="circle", size=13.5, **common)
    elif kind == "triangle":
        p.scatter(x, y, marker="triangle", size=15, **common)
    elif kind == "square":
        p.scatter(x, y, marker="square", size=12, **common)
    else:
        p.scatter(x, y, marker="square", angle=np.pi / 4, size=10.5, **common)


def scatter_panel(r, c):
    p = base_figure(COL_W[c], ROW_H[r], MASS_RANGE, RATIO_RANGE[r])
    draw_ticks(p, MASS_RANGE, RATIO_RANGE[r], MASS_TICKS,
               minor_ticks(*MASS_RANGE, 0.5, MASS_TICKS), RATIO_TICKS[r],
               minor_ticks(*RATIO_RANGE[r], RATIO_MINOR[r], RATIO_TICKS[r]))

    p.add_layout(BoxAnnotation(right=MASS_CUT, fill_color="#f7f7f7", fill_alpha=1.0,
                               line_color=None, level="underlay"))
    p.add_layout(Span(location=MASS_CUT, dimension="height", line_color="#b4b4b4",
                      line_dash="2 2", line_width=1, level="underlay"))

    lx, ly = split(low[(r, c)])
    p.scatter(lx, ly, size=5.5, fill_color="#cfcfcf", fill_alpha=0.75, line_color=None)
    gx, gy = split(gal[(r, c)])
    p.scatter(gx, gy, size=5.5, fill_color=COLORS[c], fill_alpha=0.7, line_color=None)

    # literature stacks
    if c < 2:
        sx = np.array(lit_mass[c])
        sy = np.array(lit_val[r][c], dtype=float)
        se = np.array(lit_err[r][c])
        keep = se > 0
        if keep.any():
            p.segment(sx[keep], (sy - se)[keep], sx[keep], (sy + se)[keep],
                      line_color="#8a8a8a", line_width=1.5)
        p.scatter(sx, sy, marker="star", size=14, fill_color=COLORS[c],
                  line_color="black", line_width=1.0)

    # low-mass stack
    lm, lv, le = low_mass[c], low_val[r][c], low_err[r][c]
    if r == 4 and UPPER_LIMIT_N2[c]:
        arrow_len = 0.33
        p.segment([lm], [lv], [lm], [lv - arrow_len], line_color="#808080", line_width=2.5)
        p.scatter([lm], [lv - arrow_len], marker="inverted_triangle", size=11,
                  fill_color="#808080", line_color="#808080")
    big_marker(p, [lm], [lv], MARKER_KIND[c], "#d3d3d3")
    p.segment([lm], [lv - le], [lm], [lv + le], line_color="#555555", line_width=1)

    # stacks above the mass cut
    mx = np.array(stack_mass[c])
    my = np.array(stack_val[r][c])
    me = np.array(stack_err[r][c])
    big_marker(p, mx, my, MARKER_KIND[c], COLORS[c])
    p.segment(mx, my - me * 0.6, mx, my + me * 0.6, line_color="#222222", line_width=1)

    # typical uncertainty
    ex, ey = typ_err_mass[c], typ_err_value[r][c]
    yv = typ_err_at_value[r]
    p.segment([typ_err_at_mass - ex, typ_err_at_mass], [yv, yv - ey],
              [typ_err_at_mass + ex, typ_err_at_mass], [yv, yv + ey],
              line_color=COLORS[c], line_alpha=0.75, line_width=1.5)
    return p


def stack_panel(r):
    h = STACK_H + (2 if r < 4 else 1)
    p = base_figure(STACK_W + STACK_PAD_R, h, STACK_MASS_RANGE, STACK_RATIO_RANGE[r],
                    bt=1, br=STACK_PAD_R)
    draw_ticks(p, STACK_MASS_RANGE, STACK_RATIO_RANGE[r], STACK_MASS_TICKS,
               minor_ticks(*STACK_MASS_RANGE, 0.1, STACK_MASS_TICKS), STACK_RATIO_TICKS[r],
               minor_ticks(*STACK_RATIO_RANGE[r], STACK_MINOR[r], STACK_RATIO_TICKS[r]))

    p.scatter(ref_mass, ref_gray[r], marker="square", size=6, fill_color="#808080",
              line_color=None)
    if REF_GREEN_OPEN[r]:
        p.scatter(ref_mass, ref_green[r], marker="square", size=6, fill_color=None,
                  line_color="#32cd32", line_width=1.8)
    else:
        p.scatter(ref_mass, ref_green[r], marker="square", size=6, fill_color="#32cd32",
                  line_color=None)
    for c in (3, 2, 1, 0):
        p.line(stack_mass[c], stack_val[r][c], line_color=COLORS[c], line_alpha=0.5,
               line_width=1.6, line_dash=LINE_DASH[c])
    for c in (3, 2, 1, 0):
        mx = np.array(stack_mass[c])
        my = np.array(stack_val[r][c])
        me = np.array(stack_err[r][c])
        xe = np.array(stack_mass_err[c])
        big_marker(p, mx, my, MARKER_KIND[c], COLORS[c])
        p.segment(mx - xe, my, mx + xe, my, line_color="#222222", line_width=1)
        p.segment(mx, my - me, mx, my + me, line_color="#222222", line_width=1)
    return p


def ratio_label_strip(width, height, frames, ranges, ticks, digits, titles=None):
    """Tick labels (and optional rotated titles) for a column of panels."""
    p = text_strip(width, height)
    for r, (top, fh) in enumerate(frames):
        lo, hi = ranges[r]
        widest = 0.0
        for v in ticks[r]:
            s = tick_text(v, digits[r])
            widest = max(widest, sum(ADVANCE[ch] for ch in s) * TICK_PX)
            y = height - (top + (hi - v) / (hi - lo) * fh)
            text(p, width - LABEL_STANDOFF, y, s, TICK_FONT, align="right")
        if titles:
            x = width - LABEL_STANDOFF - widest - TITLE_STANDOFF - 11
            text(p, x, height - (top + fh / 2), titles[r], LABEL_FONT, angle=np.pi / 2)
    return p


grid_frames = [(sum(ROW_H[:r]), ROW_H[r]) for r in range(5)]
stack_frames = [(r * (STACK_H + 2) + 1, STACK_H) for r in range(5)]
# the left strip runs down to the page bottom so the lowest label has room
grid_labels = ratio_label_strip(LEFT_PAD, SIDE_H, grid_frames, RATIO_RANGE, RATIO_TICKS,
                                RATIO_DIGITS, titles=[f"log({name})" for name in RATIOS])
stack_labels = ratio_label_strip(STACK_PAD_L, GRID_H, stack_frames, STACK_RATIO_RANGE,
                                 STACK_RATIO_TICKS, [1] * 5)

# column positions (page coordinates)
col_left = [LEFT_PAD]
for w in COL_W[:-1]:
    col_left.append(col_left[-1] + w)
col_centre = [l + w / 2 for l, w in zip(col_left, COL_W)]
grid_right = col_left[-1] + COL_W[-1]
stack_left = grid_right + STACK_PAD_L
stack_centre = stack_left + STACK_W / 2
grid_centre = (col_left[0] + grid_right) / 2

# header: bin titles, stack title and page number
top = text_strip(PAGE_W, TOP_H)
title_y = 16
gap = 13
for c in range(4):
    cx = col_centre[c]
    text(top, cx - gap, title_y, f"{BIN_LO[c]} <", LABEL_FONT, align="right")
    text(top, cx, title_y, "z", LABEL_FONT, style="italic")
    text(top, cx + gap, title_y, f"< {BIN_HI[c]}", LABEL_FONT, align="left")
text(top, stack_centre, title_y, "Stacks", "26px")
text(top, PAGE_W - 17, TOP_H - 11, "11", "13px")

# footer (right of the label strip): mass tick labels and mass axis titles
bottom = text_strip(PAGE_W - LEFT_PAD, BOTTOM_H)
tick_y = BOTTOM_H - 15
for c in range(4):
    lo, hi = MASS_RANGE
    for v in MASS_TICKS:
        x = col_left[c] - LEFT_PAD + (v - lo) / (hi - lo) * COL_W[c]
        text(bottom, x, tick_y, tick_text(v, 0), TICK_FONT)
lo, hi = STACK_MASS_RANGE
for v in STACK_MASS_TICKS:
    x = stack_left - LEFT_PAD + (v - lo) / (hi - lo) * STACK_W
    text(bottom, x, tick_y, tick_text(v, 1), TICK_FONT)

base_y = 15
pieces = [("log(M", 22, 0, 2.5), ("*", 15, -7, 0.5), ("/M", 22, 0, 1.167), ("\u2299", 13, -4, 0.9),
          (")", 22, 0, 0.333)]
total = sum(size * em for _, size, _, em in pieces)
for centre in (grid_centre, stack_centre):
    x = centre - LEFT_PAD - total / 2
    for txt, size, dy, em in pieces:
        text(bottom, x, base_y + dy, txt, f"{size}px", align="left", baseline="alphabetic")
        x += size * em

grid = column(*[row(*[scatter_panel(r, c) for c in range(4)]) for r in range(5)])
stacks = column(*[stack_panel(r) for r in range(5)])
body = column(row(grid, stack_labels, stacks), bottom)
page = column(top, row(grid_labels, body))

open("out.html", "w").write(file_html(page, INLINE, "Line ratios versus stellar mass"))
